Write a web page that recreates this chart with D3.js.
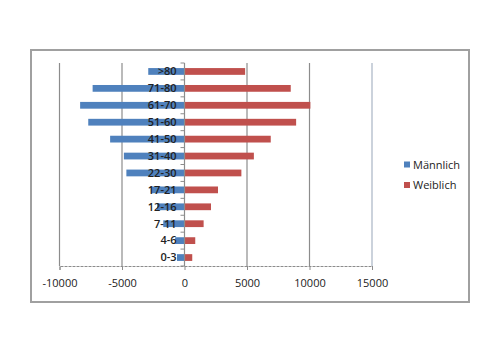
<!DOCTYPE html>
<html lang="de">
<head>
  <meta charset="UTF-8" />
  <title>Alterspyramide</title>
  <script src="https://d3js.org/d3.v7.min.js"></script>
  <style>
    body { margin: 0; background: #fff; }
    svg text { font-family: "Open Sans", "DejaVu Sans", sans-serif; fill: #222; }
  </style>
</head>
<body>
  <svg id="chart" width="500" height="353"></svg>
  <script>
    // categories from top to bottom
    const ageGroups = [">80", "71-80", "61-70", "51-60", "41-50", "31-40", "22-30", "17-21", "12-16", "7-11", "4-6", "0-3"];
    const maleValues = [-2900, -7350, -8350, -7700, -5950, -4850, -4650, -2700, -2200, -1700, -750, -600];
    const femaleValues = [4850, 8500, 10070, 8930, 6900, 5550, 4550, 2680, 2120, 1530, 860, 620];
    const xTicks = [-10000, -5000, 0, 5000, 10000, 15000];
    const seriesNames = ["Männlich", "Weiblich"];
    const seriesColors = ["#4F81BD", "#C0504D"];

    const svg = d3.select("#chart");

    // outer chart frame
    svg.append("rect")
      .attr("x", 31).attr("y", 50)
      .attr("width", 438).attr("height", 252)
      .attr("fill", "#fff")
      .attr("stroke", "#a0a0a0")
      .attr("stroke-width", 2);

    const plot = { left: 59.5, right: 372, top: 63, bottom: 266 };

    const x = d3.scaleLinear().domain([-10000, 15000]).range([plot.left, plot.right]);
    const y = d3.scaleBand().domain(ageGroups).range([plot.top, plot.bottom]).paddingInner(0.6).paddingOuter(0.3);

    // gridlines
    svg.append("g")
      .selectAll("line")
      .data(xTicks.filter(d => d !== 0))
      .join("line")
      .attr("x1", d => x(d)).attr("x2", d => x(d))
      .attr("y1", plot.top).attr("y2", plot.bottom)
      .attr("stroke", d => d === 15000 ? "#a8b4c4" : "#8c8c8c")
      .attr("stroke-width", 1.2);

    // bars
    const bars = svg.append("g");
    bars.selectAll("rect.male")
      .data(ageGroups)
      .join("rect")
      .attr("class", "male")
      .attr("x", (d, i) => x(maleValues[i]))
      .attr("width", (d, i) => x(0) - x(maleValues[i]))
      .attr("y", d => y(d))
      .attr("height", y.bandwidth())
      .attr("fill", seriesColors[0]);

    bars.selectAll("rect.female")
      .data(ageGroups)
      .join("rect")
      .attr("class", "female")
      .attr("x", x(0))
      .attr("width", (d, i) => x(femaleValues[i]) - x(0))
      .attr("y", d => y(d))
      .attr("height", y.bandwidth())
      .attr("fill", seriesColors[1]);

    // bottom value axis (plain hyphen for negatives)
    const xAxis = svg.append("g")
      .attr("transform", `translate(0,${plot.bottom})`)
      .call(d3.axisBottom(x).tickValues(xTicks).tickSize(4).tickPadding(9).tickFormat(d => String(d)));
    xAxis.select(".domain").attr("stroke", "#8c8c8c").attr("stroke-dasharray", "3,1");
    xAxis.selectAll(".tick line").attr("stroke", "#8c8c8c");
    xAxis.selectAll("text").style("font-size", "11px").attr("fill", "#222");

    // category axis at zero
    const yAxis = svg.append("g")
      .attr("transform", `translate(${x(0)},0)`);
    yAxis.append("line")
      .attr("y1", plot.top).attr("y2", plot.bottom)
      .attr("stroke", "#8c8c8c").attr("stroke-width", 1.2);
    const step = (plot.bottom - plot.top) / ageGroups.length;
    yAxis.selectAll("line.tk")
      .data(d3.range(ageGroups.length + 1))
      .join("line")
      .attr("class", "tk")
      .attr("x1", -4).attr("x2", 0)
      .attr("y1", i => plot.top + i * step).attr("y2", i => plot.top + i * step)
      .attr("stroke", "#8c8c8c");
    yAxis.selectAll("text")
      .data(ageGroups)
      .join("text")
      .attr("x", -8)
      .attr("y", d => y(d) + y.bandwidth() / 2)
      .attr("dy", "0.35em")
      .attr("text-anchor", "end")
      .style("font-size", "11px")
      .style("font-weight", "600")
      .text(d => d);

    // legend
    const legend = svg.append("g").attr("transform", "translate(404,165)");
    const items = legend.selectAll("g")
      .data(seriesNames)
      .join("g")
      .attr("transform", (d, i) => `translate(0,${i * 20.5})`);
    items.append("rect")
      .attr("x", 0).attr("y", -3.5)
      .attr("width", 6).attr("height", 6)
      .attr("fill", (d, i) => seriesColors[i]);
    items.append("text")
      .attr("x", 9).attr("dy", "0.35em")
      .style("font-size", "11px")
      .text(d => d);
  </script>
</body>
</html>
